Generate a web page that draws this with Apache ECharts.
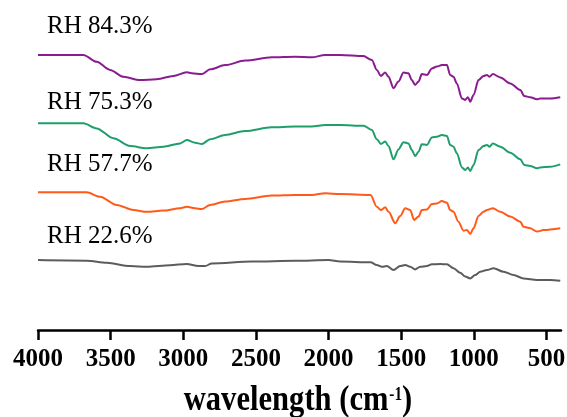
<!DOCTYPE html>
<html>
<head>
<meta charset="utf-8">
<script src="https://cdn.jsdelivr.net/npm/echarts@6/dist/echarts.min.js"></script>
<style>html,body{margin:0;padding:0;background:#fff}#c{width:567px;height:417px}</style>
</head>
<body>
<div id="c"></div>
<script>
// FTIR spectra (wavenumber cm^-1, relative transmittance a.u., stacked)
const rh843 = [[4000,91.7],[3688,91.7],[3596,89.4],[3504,86.7],[3412,84.4],[3298,83.3],[3182,83.6],[3068,84.7],[2976,85.9],[2942,85.6],[2873,85.3],[2815,86.9],[2712,88.3],[2574,89.8],[2391,90.9],[2230,91.1],[2115,90.9],[2023,91.7],[1920,91.7],[1760,91.3],[1702,90.0],[1668,86.7],[1640,84.7],[1610,85.8],[1587,84.4],[1553,80.6],[1519,82.8],[1484,85.8],[1450,85.6],[1427,83.3],[1404,81.7],[1381,82.8],[1358,85.3],[1323,85.0],[1289,87.2],[1254,87.8],[1220,88.3],[1185,88.3],[1163,85.0],[1140,84.4],[1117,82.2],[1082,77.2],[1059,76.7],[1041,77.6],[1025,76.1],[1002,78.3],[968,83.3],[933,84.7],[910,85.0],[892,84.4],[869,85.3],[818,84.2],[749,82.2],[680,80.0],[653,78.0],[612,77.6],[565,76.9],[543,77.2],[474,77.2],[405,77.6]];
const rh753 = [[4000,68.9],[3688,68.9],[3596,67.2],[3481,63.9],[3366,61.3],[3251,60.6],[3137,61.1],[3022,62.2],[2976,63.3],[2919,62.4],[2873,62.0],[2815,63.6],[2712,65.0],[2574,66.3],[2391,67.6],[2230,67.8],[2115,67.8],[2023,68.3],[1920,68.3],[1760,68.1],[1702,66.7],[1668,63.6],[1640,62.0],[1610,62.8],[1587,61.3],[1553,56.9],[1519,60.2],[1484,62.6],[1450,62.2],[1427,60.0],[1404,58.0],[1381,59.4],[1358,61.9],[1323,61.7],[1289,64.2],[1254,64.4],[1220,65.0],[1185,64.7],[1163,61.7],[1140,61.1],[1117,58.9],[1082,54.2],[1059,53.3],[1041,54.2],[1025,53.0],[1002,55.0],[968,60.0],[933,61.3],[910,61.7],[892,61.1],[869,62.2],[818,61.1],[749,59.1],[680,56.9],[653,55.0],[612,54.7],[565,53.9],[543,54.2],[474,54.4],[405,55.2]];
const rh577 = [[4000,45.9],[3665,45.9],[3573,44.4],[3458,41.7],[3344,40.0],[3251,39.4],[3137,39.8],[3022,40.6],[2976,41.1],[2919,40.6],[2873,40.3],[2815,41.7],[2712,42.8],[2574,43.7],[2391,44.8],[2230,45.0],[2115,45.0],[2023,45.6],[1920,45.3],[1711,45.0],[1668,41.1],[1640,40.0],[1610,40.9],[1587,39.4],[1541,35.6],[1507,38.0],[1472,40.6],[1438,40.0],[1411,36.7],[1381,37.8],[1358,40.0],[1323,40.2],[1289,42.0],[1254,42.2],[1220,43.0],[1185,42.4],[1163,40.0],[1140,39.4],[1106,36.1],[1071,33.1],[1048,33.3],[1025,32.0],[1002,33.9],[968,38.0],[933,39.4],[910,40.0],[869,40.6],[818,39.4],[749,37.8],[680,36.1],[658,34.4],[612,33.9],[565,32.8],[520,33.3],[405,33.9]];
const rh226 = [[4000,23.3],[3665,23.1],[3527,22.4],[3366,21.3],[3251,21.1],[3091,21.6],[2976,22.0],[2896,21.3],[2850,21.3],[2804,22.2],[2528,22.8],[2230,23.1],[2000,23.3],[1920,22.8],[1711,22.6],[1668,21.7],[1633,21.1],[1599,21.3],[1553,20.0],[1507,21.3],[1472,21.7],[1438,21.1],[1404,20.2],[1369,21.1],[1323,21.3],[1289,21.9],[1232,22.0],[1185,21.9],[1140,20.6],[1094,19.1],[1059,17.8],[1025,17.2],[991,18.3],[956,19.4],[910,20.0],[864,20.6],[795,19.4],[726,18.3],[658,17.2],[565,16.7],[474,16.7],[405,16.4]];
const seriesNames = ['RH 84.3%','RH 75.3%','RH 57.7%','RH 22.6%'];
const tickValues = [4000,3500,3000,2500,2000,1500,1000,500];
const axisTitle = 'wavelength (cm';
const axisTitleSup = '-1';

const colors = ['#8a1c8f','#1f9e6c','#ff5a1a','#5c5c5c'];
const datasets = [rh843, rh753, rh577, rh226];
const labelY = [26, 102, 164, 236];

const chart = echarts.init(document.getElementById('c'), null, {renderer:'canvas'});
chart.setOption({
  animation:false,
  backgroundColor:'#fff',
  grid:{left:38, right:6, top:30, bottom:87, containLabel:false, outerBoundsMode:'none'},
  xAxis:{
    type:'value', min:400, max:4000, inverse:true,
    splitLine:{show:false},
    axisLine:{show:true, lineStyle:{color:'#000', width:2.5}},
    axisTick:{show:true, inside:false, length:10, lineStyle:{color:'#000', width:2.5}, customValues:tickValues},
    axisLabel:{customValues:tickValues, margin:17, color:'#000', fontFamily:'Liberation Serif', fontWeight:'bold', fontSize:25,
      formatter:(v)=>String(v), hideOverlap:false}
  },
  yAxis:{type:'value', min:0, max:100, show:false, splitLine:{show:false}},
  series: datasets.map((d,i)=>({
    type:'line', name:seriesNames[i], data:d, showSymbol:false, symbol:'none',
    smooth:0.3, smoothMonotone:'x',
    lineStyle:{color:colors[i], width:2}
  })),
  graphic: seriesNames.map((n,i)=>({
    type:'text', x:47, y:labelY[i],
    style:{text:n, fill:'#000', font:'25px "Liberation Serif"', verticalAlign:'middle', align:'left'}
  })).concat([{
    type:'text', x:298, y:401, scaleX:0.85, originX:0,
    style:{
      text:'{a|'+axisTitle+'}{s|'+axisTitleSup+'}{a|)}',
      align:'center', verticalAlign:'middle',
      rich:{
        a:{font:'bold 36px "Liberation Serif"', fill:'#000'},
        s:{font:'bold 18px "Liberation Serif"', fill:'#000', verticalAlign:'top', padding:[3,0,0,1]}
      }
    }
  }])
});
</script>
</body>
</html>
